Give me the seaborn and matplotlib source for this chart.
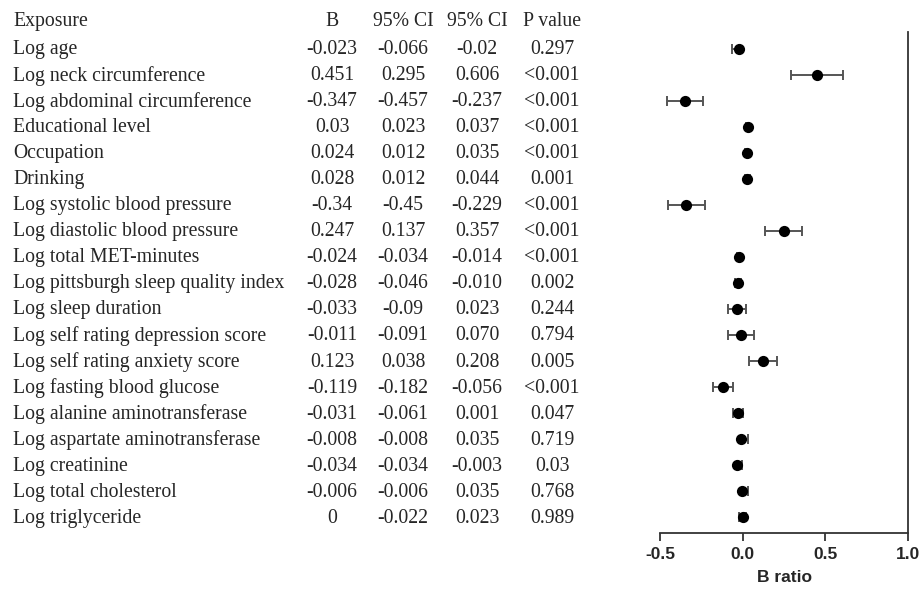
import matplotlib
matplotlib.use("Agg")
import matplotlib.pyplot as plt
import matplotlib.transforms as mtransforms
import seaborn as sns
import pandas as pd
import numpy as np

exposures = ["Log age", "Log neck circumference", "Log abdominal circumference",
             "Educational level", "Occupation", "Drinking",
             "Log systolic blood pressure", "Log diastolic blood pressure",
             "Log total MET-minutes", "Log pittsburgh sleep quality index",
             "Log sleep duration", "Log self rating depression score",
             "Log self rating anxiety score", "Log fasting blood glucose",
             "Log alanine aminotransferase", "Log aspartate aminotransferase",
             "Log creatinine", "Log total cholesterol", "Log triglyceride"]
b_text = ["-0.023", "0.451", "-0.347", "0.03", "0.024", "0.028", "-0.34", "0.247",
          "-0.024", "-0.028", "-0.033", "-0.011", "0.123", "-0.119", "-0.031",
          "-0.008", "-0.034", "-0.006", "0"]
lo_text = ["-0.066", "0.295", "-0.457", "0.023", "0.012", "0.012", "-0.45", "0.137",
           "-0.034", "-0.046", "-0.09", "-0.091", "0.038", "-0.182", "-0.061",
           "-0.008", "-0.034", "-0.006", "-0.022"]
hi_text = ["-0.02", "0.606", "-0.237", "0.037", "0.035", "0.044", "-0.229", "0.357",
           "-0.014", "-0.010", "0.023", "0.070", "0.208", "-0.056", "0.001",
           "0.035", "-0.003", "0.035", "0.023"]
p_text = ["0.297", "<0.001", "<0.001", "<0.001", "<0.001", "0.001", "<0.001", "<0.001",
          "<0.001", "0.002", "0.244", "0.794", "0.005", "<0.001", "0.047",
          "0.719", "0.03", "0.768", "0.989"]
headers = ["Exposure", "B", "95% CI", "95% CI", "P value"]
x_ticks = [-0.5, 0.0, 0.5, 1.0]
x_ticklabels = ["-0.5", "0.0", "0.5", "1.0"]

df = pd.DataFrame({
    "exposure": exposures,
    "b": [float(v) for v in b_text],
    "lo": [float(v) for v in lo_text],
    "hi": [float(v) for v in hi_text],
})
df["row"] = np.arange(1, len(df) + 1)

sns.set_style("white")
fig = plt.figure(figsize=(9.22, 5.90), dpi=100)
W, H = 922, 590
ax = fig.add_axes([660 / W, (H - 533) / H, (908 - 660) / W, (533 - 32) / H])

ax.errorbar(df["b"], df["row"], xerr=[df["b"] - df["lo"], df["hi"] - df["b"]],
            fmt="none", ecolor="#555555", elinewidth=1.4, capsize=3.5, capthick=1.4, zorder=2)
sns.scatterplot(data=df, x="b", y="row", ax=ax, color="black", s=65,
                edgecolor="black", linewidth=0, zorder=3, legend=False)

ax.set_xlim(-0.5, 1.0)
ax.set_ylim(19.6, 0.35)
ax.set_yticks([])
ax.set_xticks(x_ticks)
ax.set_xticklabels(x_ticklabels, fontfamily="Liberation Sans", fontweight="bold", fontsize=12.5)
ax.tick_params(axis="x", direction="out", length=6, width=1.3, color="#333333", bottom=True, pad=4)
ax.set_xlabel("B ratio", fontfamily="Liberation Sans", fontweight="bold", fontsize=12.5, labelpad=6)
ax.set_ylabel("")
for side in ["left", "top"]:
    ax.spines[side].set_visible(False)
for side in ["bottom", "right"]:
    ax.spines[side].set_visible(True)
    ax.spines[side].set_color("#333333")
    ax.spines[side].set_linewidth(1.3)

trans = mtransforms.blended_transform_factory(fig.transFigure, ax.transData)
serif = "Liberation Serif"
fs = 14.2
col_x = [13 / W, 332 / W, 403 / W, 477 / W, 552 / W]
for i, h in enumerate(headers):
    ax.text(col_x[i], -0.05, h, transform=trans, fontfamily=serif, fontsize=fs,
            ha="left" if i == 0 else "center", va="center", clip_on=False)
for r in range(len(df)):
    y = df["row"].iloc[r] + 0.03
    vals = [exposures[r], b_text[r], lo_text[r], hi_text[r], p_text[r]]
    for i, v in enumerate(vals):
        ax.text(col_x[i], y, v, transform=trans, fontfamily=serif, fontsize=fs,
                ha="left" if i == 0 else "center", va="center", clip_on=False)

fig.savefig("out.png", dpi=100)
